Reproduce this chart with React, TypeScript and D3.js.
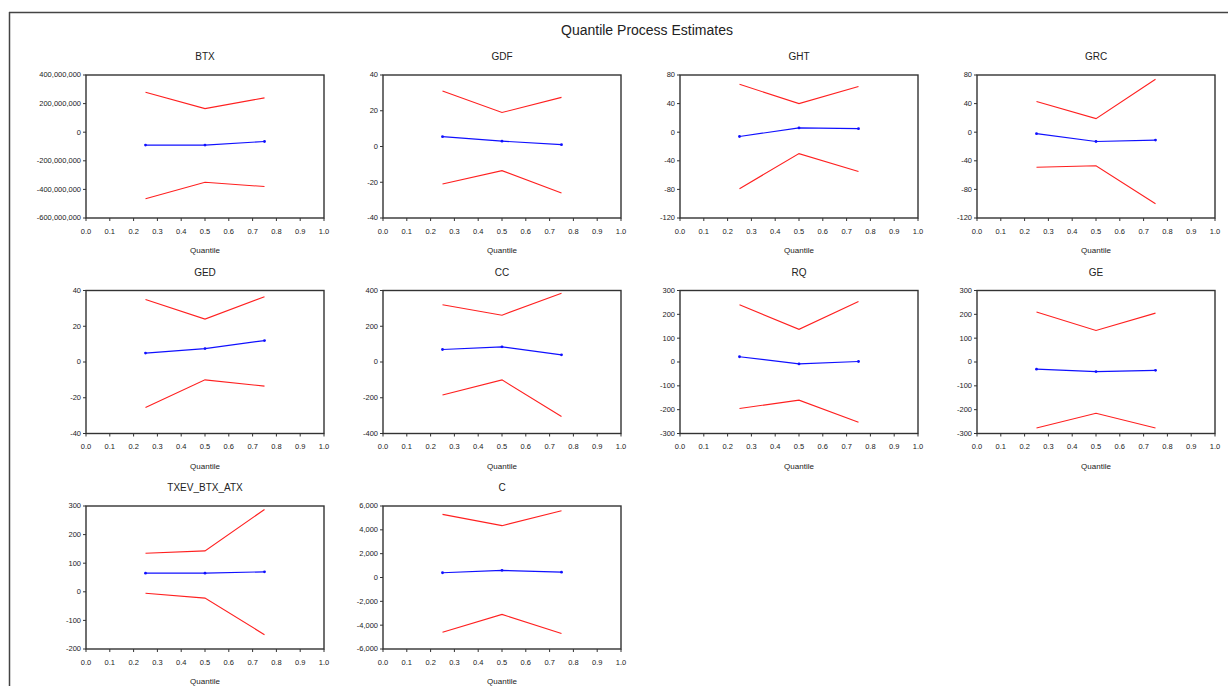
import React from 'react';
import * as d3 from 'd3';

// Quantile process estimates (tau = 0.25, 0.5, 0.75)
const quantiles = [0.25, 0.5, 0.75];

const panelNames = ['BTX', 'GDF', 'GHT', 'GRC', 'GED', 'CC', 'RQ', 'GE', 'TXEV_BTX_ATX', 'C'];

const estimates = [
  [-90e6, -90e6, -65e6],
  [5.5, 3, 1],
  [-6, 6, 5],
  [-2, -13, -11],
  [5, 7.5, 12],
  [70, 85, 40],
  [22, -8, 2],
  [-30, -40, -35],
  [65, 65, 70],
  [400, 600, 450],
];

const upperBand = [
  [280e6, 165e6, 240e6],
  [31, 19, 27.5],
  [67, 40, 64],
  [43, 19, 74],
  [35, 24, 36.5],
  [320, 262, 385],
  [240, 137, 254],
  [210, 132, 205],
  [135, 143, 288],
  [5300, 4350, 5600],
];

const lowerBand = [
  [-465e6, -350e6, -380e6],
  [-21, -13.5, -26],
  [-79, -30, -55],
  [-49, -47, -100],
  [-25.5, -10, -13.5],
  [-185, -100, -305],
  [-195, -160, -253],
  [-277, -215, -277],
  [-5, -22, -150],
  [-4600, -3100, -4700],
];

// y axis range and tick step for each panel
const yMin = [-600e6, -40, -120, -120, -40, -400, -300, -300, -200, -6000];
const yMax = [400e6, 40, 80, 80, 40, 400, 300, 300, 300, 6000];
const yStep = [200e6, 20, 40, 40, 20, 200, 100, 100, 100, 2000];

const xTicks = d3.range(0, 11).map(i => i / 10);

const locale = d3.formatLocale({
  decimal: '.',
  thousands: ',',
  grouping: [3],
  currency: ['$', ''],
  minus: '-',
});
const fmtY = locale.format(',');
const fmtX = locale.format('.1f');

const W = 1228;
const H = 686;
const colLeft = 86;
const colStep = 297;
const rowTop = 75;
const rowStep = 215.5;
const plotW = 238;
const plotH = 143;
const font = 'Arial, "Liberation Sans", sans-serif';

function Panel({ i }: { i: number }) {
  const col = i % 4;
  const row = Math.floor(i / 4);
  const x0 = colLeft + col * colStep;
  const y0 = rowTop + row * rowStep;

  const x = d3.scaleLinear().domain([0, 1]).range([0, plotW]);
  const y = d3.scaleLinear().domain([yMin[i], yMax[i]]).range([plotH, 0]);
  const yTicks = d3.range(yMin[i], yMax[i] + yStep[i] / 2, yStep[i]);

  const line = d3
    .line<number>()
    .x((_, k) => x(quantiles[k]))
    .y(d => y(d));

  return (
    <g transform={`translate(${x0},${y0})`}>
      <text x={plotW / 2} y={-15} textAnchor="middle" fontSize={10} fill="#222">
        {panelNames[i]}
      </text>
      <path d={line(upperBand[i]) as string} fill="none" stroke="#ff2020" strokeWidth={1.1} />
      <path d={line(lowerBand[i]) as string} fill="none" stroke="#ff2020" strokeWidth={1.1} />
      <path d={line(estimates[i]) as string} fill="none" stroke="#1010ff" strokeWidth={1.2} />
      {estimates[i].map((v, k) => (
        <circle key={k} cx={x(quantiles[k])} cy={y(v)} r={1.4} fill="#1010ff" />
      ))}
      <rect x={0} y={0} width={plotW} height={plotH} fill="none" stroke="#333" strokeWidth={1.4} />
      {yTicks.map(t => (
        <g key={t} transform={`translate(0,${y(t)})`}>
          <line x1={-3} x2={0} stroke="#333" strokeWidth={1} />
          <text x={-5} dy="0.32em" textAnchor="end" fontSize={7.5} fill="#222">
            {fmtY(t)}
          </text>
        </g>
      ))}
      {xTicks.map(t => (
        <g key={t} transform={`translate(${x(t)},${plotH})`}>
          <line y1={0} y2={3} stroke="#333" strokeWidth={1} />
          <text y={15.5} textAnchor="middle" fontSize={7.5} fill="#222">
            {fmtX(t)}
          </text>
        </g>
      ))}
      <text x={plotW / 2} y={plotH + 35} textAnchor="middle" fontSize={8} fill="#222">
        Quantile
      </text>
    </g>
  );
}

export default function App() {
  return (
    <svg
      width={W}
      height={H}
      style={{ position: 'absolute', left: 0, top: 0, display: 'block', background: '#fff' }}
      fontFamily={font}
    >
      <rect width={W} height={H} fill="#fff" />
      <line x1={9} x2={W} y1={12.5} y2={12.5} stroke="#444" strokeWidth={1.5} />
      <line x1={9.5} x2={9.5} y1={12} y2={H} stroke="#444" strokeWidth={1.5} />
      <text x={647} y={35} textAnchor="middle" fontSize={14} fill="#222">
        Quantile Process Estimates
      </text>
      {panelNames.map((_, i) => (
        <Panel key={i} i={i} />
      ))}
    </svg>
  );
}
